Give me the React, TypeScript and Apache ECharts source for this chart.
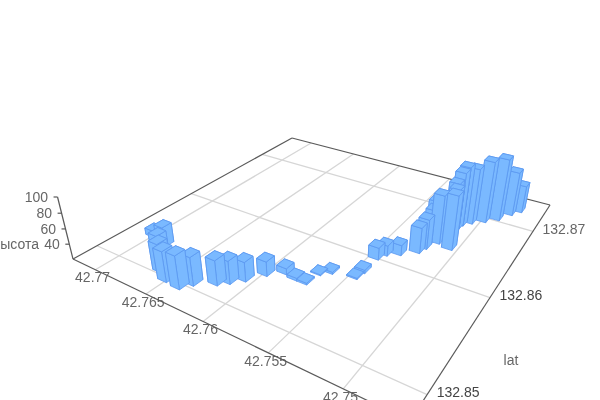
import React, { useEffect, useRef } from "react";
import * as echarts from "echarts";

const lonTicks = [42.77, 42.765, 42.76, 42.755, 42.75];
const latTicks = [132.87, 132.86, 132.85];
const heightTicks = [100, 80, 60, 40];

const lons = [42.7702, 42.7685, 42.7678, 42.7663, 42.7652, 42.7639, 42.7634, 42.7621, 42.7615, 42.7608, 42.76, 42.759, 42.758, 42.7572, 42.757, 42.7564, 42.7547, 42.7546, 42.7546, 42.7543, 42.7535, 42.7525, 42.7523, 42.7523, 42.7522, 42.7518, 42.7507, 42.7514, 42.7517, 42.7514, 42.7513, 42.7508, 42.75, 42.7492, 42.7486, 42.7481];
const lats = [132.8536, 132.8531, 132.8519, 132.8506, 132.85, 132.8499, 132.8507, 132.8516, 132.8522, 132.853, 132.8543, 132.8552, 132.855, 132.855, 132.8564, 132.857, 132.8574, 132.8583, 132.8603, 132.8611, 132.8617, 132.8627, 132.8635, 132.8647, 132.8649, 132.8647, 132.8644, 132.8667, 132.8674, 132.8676, 132.8682, 132.8689, 132.8697, 132.8706, 132.872, 132.8729];
const heights = [29, 46.3, 48.5, 57.2, 59.6, 62.9, 56.7, 52.4, 49.9, 45.4, 39.1, 28.1, 23.6, 22.3, 21.3, 22.7, 21.7, 24.5, 36, 33.8, 33.8, 54.1, 59.7, 62.5, 73.3, 84.7, 92.1, 80.1, 82.1, 96.3, 100.3, 95.7, 103.5, 104.6, 80.6, 57.9];

const lonMin = 42.7461, lonMax = 42.7724, latMin = 132.8479, latMax = 132.8751, hMin = 20;
const A = 216.0, B = 355.2, C = 73, D = 37.7, E = -56.6, F = 259, G = -0.2952, H = 0.4664, I = -0.000736, VX = 320, VY = 1250;
const DU = 0.031, DV = 0.034;

function proj(u: number, v: number, z = 0) {
  const w = G * u + H * v + 1 + I * z;
  return [(A * u + B * v + C + VX * I * z) / w, (D * u + E * v + F + VY * I * z) / w];
}
const uv = (api: any, lon: number, lat: number) => {
  const c = api.coord([lon, lat]);
  return [c[0] / 600, 1 - c[1] / 400];
};
const font = "14px 'Liberation Sans', Arial, sans-serif";
const gridStyle = { stroke: "#d6d6d6", lineWidth: 1.3 };
const axisStyle = { stroke: "#5a5a5a", lineWidth: 1.2 };
const lineEl = (p: number[], q: number[], style: any) => ({ type: "line", shape: { x1: p[0], y1: p[1], x2: q[0], y2: q[1] }, style });
const textEl = (x: number, y: number, text: string, fill: string, align = "center") => ({ type: "text", x, y, style: { text, fill, font, align, verticalAlign: "middle" } });

const renderLon = (_: any, api: any) => {
  const lon = api.value(0);
  const [u] = uv(api, lon, latMin);
  const p = proj(u, 0), q = proj(u, 1);
  return { type: "group", children: [lineEl(p, q, gridStyle), textEl(p[0] - 2.7, p[1] + 7.7, String(lon), "#666")] };
};
const renderLat = (_: any, api: any) => {
  const lat = api.value(1);
  const [, v] = uv(api, lonMin, lat);
  const p = proj(1, v), q = proj(0, v);
  return { type: "group", children: [lineEl(p, q, gridStyle), textEl(p[0] + 9.5, p[1] - 2.7, String(lat), lat === 132.87 ? "#666" : "#444", "left")] };
};
const renderFrame = () => {
  const c = [proj(0, 0), proj(1, 0), proj(1, 1), proj(0, 1)];
  return { type: "group", children: [lineEl(c[0], c[1], axisStyle), lineEl(c[1], c[2], axisStyle), lineEl(c[2], c[3], axisStyle), lineEl(c[3], c[0], axisStyle), lineEl(proj(0, 0), proj(0, 0, 80), axisStyle)] };
};
const renderHeight = (_: any, api: any) => {
  const h = api.value(2);
  const z = echarts.number.linearMap(h, [hMin, 100], [0, 80], false);
  const p = proj(0, 0, z);
  return { type: "group", children: [lineEl(p, [p[0] - 4, p[1]], axisStyle), textEl(p[0] - 9.5, p[1], String(h), "#666", "right")] };
};
const renderBar = (_: any, api: any) => {
  const [u, v] = uv(api, api.value(0), api.value(1));
  const z = echarts.number.linearMap(api.value(2), [hMin, 100], [0, 80], false);
  const cs = [[u - DU / 2, v - DV / 2], [u + DU / 2, v - DV / 2], [u + DU / 2, v + DV / 2], [u - DU / 2, v + DV / 2]];
  const style = { fill: "#7ab9ff", stroke: "#5c98f0", lineWidth: 0.8 };
  const sides = [0, 1, 2, 3].map((i) => {
    const a = cs[i], b = cs[(i + 1) % 4];
    const depth = G * (a[0] + b[0]) + H * (a[1] + b[1]);
    return { depth, el: { type: "polygon", shape: { points: [proj(a[0], a[1]), proj(b[0], b[1]), proj(b[0], b[1], z), proj(a[0], a[1], z)] }, style } };
  }).sort((p, q) => q.depth - p.depth).map((s) => s.el);
  const top = { type: "polygon", shape: { points: cs.map((c) => proj(c[0], c[1], z)) }, style };
  return { type: "group", children: [...sides, top] };
};
const depthOf = (b: number[]) => G * ((lonMax - b[0]) / (lonMax - lonMin)) + H * ((b[1] - latMin) / (latMax - latMin));
const sorted = lons.map((lon, i) => [lon, lats[i], heights[i]]).sort((p, q) => depthOf(q) - depthOf(p));

export default function App() {
  const ref = useRef<HTMLDivElement>(null);
  useEffect(() => {
    const chart = echarts.init(ref.current!, undefined, { renderer: "svg" });
    const common = { type: "custom", silent: true, clip: false, encode: { x: 0, y: 1 } };
    chart.setOption({
      animation: false,
      grid: { left: 0, right: 0, top: 0, bottom: 0 },
      xAxis: { type: "value", show: false, inverse: true, min: lonMin, max: lonMax },
      yAxis: { type: "value", show: false, min: latMin, max: latMax },
      graphic: [
        { type: "text", x: 39, y: 244, silent: true, style: { text: "высота", fill: "#666", font, align: "right", verticalAlign: "middle" } },
        { type: "text", x: 511, y: 360, silent: true, style: { text: "lat", fill: "#666", font, align: "center", verticalAlign: "middle" } },
      ],
      series: [
        { ...common, renderItem: renderLon, data: lonTicks.map((t) => [t, latMin]) },
        { ...common, renderItem: renderLat, data: latTicks.map((t) => [lonMin, t]) },
        { ...common, renderItem: renderFrame, data: [[lonMax, latMin]] },
        { ...common, renderItem: renderHeight, data: heightTicks.map((t) => [lonMax, latMin, t]) },
        { ...common, renderItem: renderBar, data: sorted },
      ],
    });
    return () => chart.dispose();
  }, []);
  return <div ref={ref} style={{ position: "fixed", left: 0, top: 0, width: 600, height: 400 }} />;
}
